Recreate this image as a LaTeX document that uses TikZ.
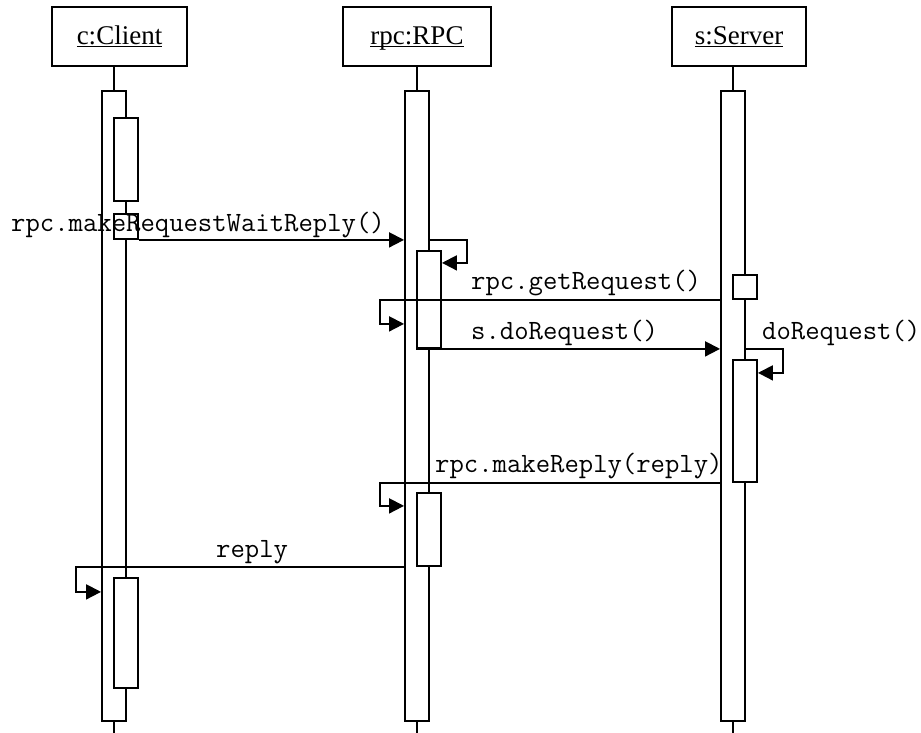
\documentclass[tikz,border=0pt]{standalone}
\usepackage{fontspec}
\setmainfont{Liberation Serif}
\usetikzlibrary{arrows.meta, positioning, calc}

% object names: underline kept at the baseline
\newcommand\objname[1]{\underline{\vphantom{C}\smash{#1}}}

\begin{document}
\begin{tikzpicture}[
  x=1pt, y=-1pt,
  >={Triangle[length=15pt, width=15pt]},
  obj/.style = {draw, rectangle, line width=2.6pt, minimum height=59pt, inner sep=0pt,
                font=\fontsize{27}{30}\selectfont},
  bar/.style = {draw, rectangle, fill=white, line width=1.9pt, minimum width=24pt,
                inner sep=0pt, anchor=north},
  msg/.style = {line width=1.9pt},
  lbl/.style = {font=\ttfamily\fontsize{27.9}{30}\selectfont, inner sep=0pt, anchor=base west},
]
  \useasboundingbox (0,0) rectangle (921,733);

  % objects
  \node[obj, minimum width=135pt] (client) at (119.5,36.5) {\objname{c:Client}};
  \node[obj, minimum width=148pt] (rpc)    at (417,36.5)   {\objname{rpc:RPC}};
  \node[obj, minimum width=134pt] (server) at (739,36.5)   {\objname{s:Server}};
  \coordinate (bottom) at (0,733);

  % lifelines with their outer activations
  \node[bar, minimum height=630pt] (cOut) at (114,90) {};
  \node[bar, minimum height=630pt] (rOut) at (417,90) {};
  \node[bar, minimum height=630pt] (sOut) at (733,90) {};
  \draw[msg] (cOut.north) -- (cOut.north |- client.south);
  \draw[msg] (rOut.north) -- (rOut.north |- rpc.south);
  \draw[msg] (sOut.north) -- (sOut.north |- server.south);
  \draw[msg] (cOut.south) -- (cOut.south |- bottom);
  \draw[msg] (rOut.south) -- (rOut.south |- bottom);
  \draw[msg] (sOut.south) -- (sOut.south |- bottom);

  % nested activations
  \node[bar, minimum height=83pt]  (cA1) at (126,117) {};
  \node[bar, minimum height=25pt]  (cA2) at (126,213) {};
  \node[bar, minimum height=110pt] (cA3) at (126,577) {};
  \node[bar, minimum height=97pt]  (rA1) at (429,250) {};
  \node[bar, minimum height=73pt]  (rA2) at (429,492) {};
  \node[bar, minimum height=24pt]  (sA1) at (745,274) {};
  \node[bar, minimum height=122pt] (sA2) at (745,359) {};

  % messages
  \draw[msg,->] (cA2.south east) -- (cA2.south east -| rOut.west);
  \node[lbl] (mWait) at (11,231) {rpc.makeRequestWaitReply()};

  \draw[msg,->] (rOut.east |- cA2.south) -- ++(37,0) -- ++(0,23) -- ++(-25,0);

  \draw[msg,->] (sOut.west |- sA1.south) -- ++(-340,0) -- ++(0,24) -- ++(24,0);
  \node[lbl] (mGet) at (471,289) {rpc.getRequest()};

  \draw[msg,->] (rA1.south west) -- (rA1.south west -| sOut.west);
  \node[lbl] (mDo) at (471,339) {s.doRequest()};

  \draw[msg,->] (sOut.east |- rA1.south) -- ++(37,0) -- ++(0,24) -- ++(-25,0);
  \node[lbl] (mSelf) at (762,339) {doRequest()};

  \draw[msg,->] (sOut.west |- sA2.south) -- ++(-340,0) -- ++(0,23) -- ++(24,0);
  \node[lbl] (mMake) at (435,472) {rpc.makeReply(reply)};

  \draw[msg,->] (rOut.west |- rA2.south) -- ++(-328,0) -- ++(0,25) -- ++(25,0);
  \node[lbl] (mReply) at (216,557) {reply};
\end{tikzpicture}
\end{document}
